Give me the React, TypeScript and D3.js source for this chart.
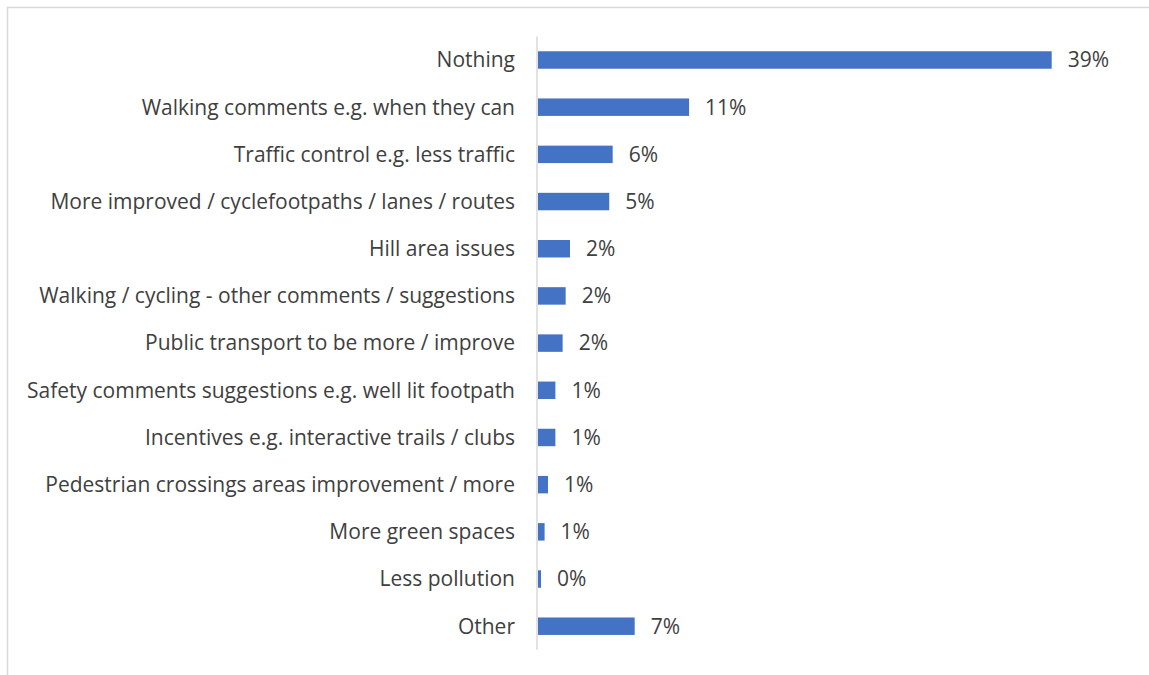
import React, { useEffect, useRef } from 'react';
import * as d3 from 'd3';

const categories = [
  'Nothing',
  'Walking comments e.g. when they can',
  'Traffic control e.g. less traffic',
  'More improved / cyclefootpaths / lanes / routes',
  'Hill area issues',
  'Walking / cycling - other comments / suggestions',
  'Public transport to be more / improve',
  'Safety comments suggestions e.g. well lit footpath',
  'Incentives e.g. interactive trails / clubs',
  'Pedestrian crossings areas improvement / more',
  'More green spaces',
  'Less pollution',
  'Other',
];

const values = [39.0, 11.47, 5.67, 5.41, 2.43, 2.1, 1.87, 1.32, 1.32, 0.76, 0.5, 0.23, 7.34];

const valueLabels = ['39%', '11%', '6%', '5%', '2%', '2%', '2%', '1%', '1%', '1%', '1%', '0%', '7%'];

const App = () => {
  const ref = useRef<SVGSVGElement>(null);

  useEffect(() => {
    const width = 1149;
    const height = 675;
    const svg = d3.select(ref.current)
      .attr('width', width)
      .attr('height', height);
    svg.selectAll('*').remove();

    // chart frame (only top/left edges show in the crop)
    svg.append('rect')
      .attr('x', 7.5)
      .attr('y', 7.5)
      .attr('width', 1300)
      .attr('height', 800)
      .attr('fill', '#ffffff')
      .attr('stroke', '#d9d9d9')
      .attr('stroke-width', 1.5);

    const x0 = 538;
    const xScale = d3.scaleLinear().domain([0, 39]).range([x0, 1051.7]);
    const yScale = d3.scaleBand<string>()
      .domain(categories)
      .range([36.4, 649.8])
      .paddingInner(0.63)
      .paddingOuter(0.315);

    const font = '"Open Sans", Lato, sans-serif';

    // bars
    svg.selectAll('.bar')
      .data(values)
      .join('rect')
      .attr('class', 'bar')
      .attr('x', x0)
      .attr('y', (d, i) => yScale(categories[i])!)
      .attr('width', d => xScale(d) - x0)
      .attr('height', yScale.bandwidth())
      .attr('fill', '#4472c4');

    // category axis line
    svg.append('line')
      .attr('x1', 537)
      .attr('x2', 537)
      .attr('y1', 36.4)
      .attr('y2', 649.8)
      .attr('stroke', '#d9d9d9')
      .attr('stroke-width', 1.5);

    // category labels
    svg.selectAll('.cat')
      .data(categories)
      .join('text')
      .attr('class', 'cat')
      .attr('x', 515)
      .attr('y', d => yScale(d)! + yScale.bandwidth() / 2)
      .attr('dy', '0.35em')
      .attr('text-anchor', 'end')
      .attr('font-family', font)
      .attr('font-size', '21px')
      .attr('fill', '#404040')
      .text(d => d);

    // value labels
    svg.selectAll('.val')
      .data(values)
      .join('text')
      .attr('class', 'val')
      .attr('x', d => xScale(d) + 16)
      .attr('y', (d, i) => yScale(categories[i])! + yScale.bandwidth() / 2)
      .attr('dy', '0.35em')
      .attr('font-family', font)
      .attr('font-size', '21px')
      .attr('fill', '#404040')
      .text((d, i) => valueLabels[i]);
  }, []);

  return (
    <div style={{ position: 'absolute', left: 0, top: 0, width: 1149, height: 675, overflow: 'hidden' }}>
      <svg ref={ref} style={{ display: 'block' }}></svg>
    </div>
  );
};

export default App;
